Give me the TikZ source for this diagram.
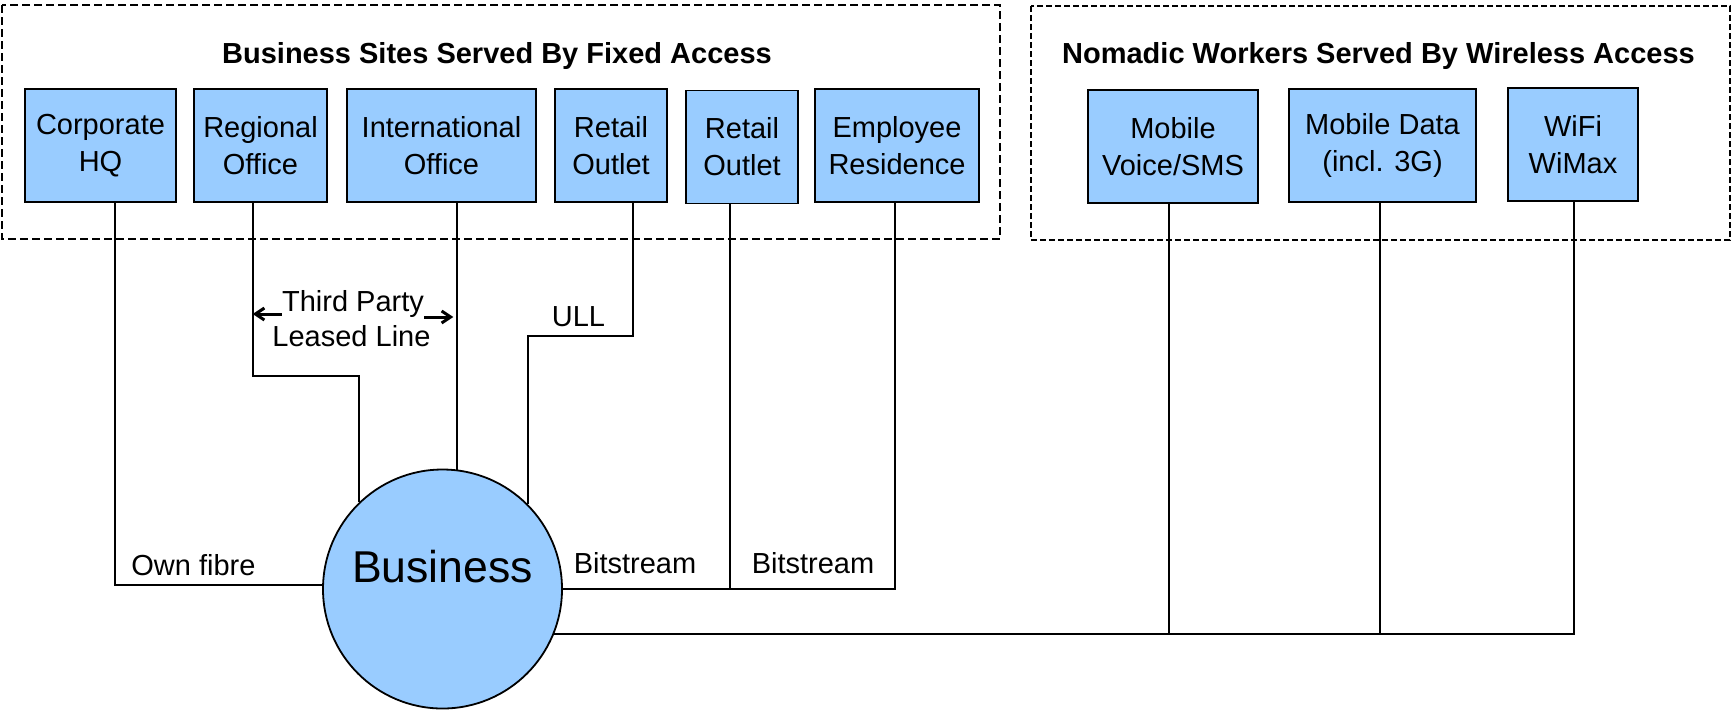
\documentclass[tikz,border=0pt]{standalone}
\usepackage{fontspec}
\setmainfont{Liberation Sans}
\usetikzlibrary{arrows.meta,calc}
\definecolor{siteblue}{RGB}{153,204,255}

\begin{document}
\begin{tikzpicture}[x=0.5pt,y=-0.5pt,
    site/.style={draw,fill=siteblue,line width=0.9pt,inner sep=0pt,align=center,
      minimum height=56.5pt,font=\fontsize{14.5}{18.5}\selectfont},
    group/.style={draw,dash pattern=on 4pt off 2pt,line width=1.3pt},
    link/.style={line width=0.9pt},
    lbl/.style={inner sep=0pt,font=\fontsize{14.5}{17.5}\selectfont},
    head/.style={inner sep=0pt,font=\fontsize{14.5}{17.5}\selectfont\bfseries},
    lease/.style={line width=1.5pt,-{Straight Barb[length=4.5pt,width=6pt]}}]
  \useasboundingbox (0,0) rectangle (1732,709);
  \draw[group] (2,5) rectangle (1000,239);
  \draw[group,dash pattern=on 3pt off 1.5pt,line width=0.9pt] (1031,6) rectangle (1730,240);
  \node[head,anchor=base] (fixedtitle) at (497,63) {Business Sites Served By Fixed Access};
  \node[head,anchor=base] (wirelesstitle) at (1378.5,63) {Nomadic Workers Served By Wireless Access};

  \node[site,minimum width=75.5pt] (corp) at (100.5,145.5) {Corporate\\HQ};
  \node[site,minimum width=66.5pt] (regional) at (260.5,145.5) {Regional\\Office};
  \node[site,minimum width=94.5pt] (intl) at (441.5,145.5) {International\\Office};
  \node[site,minimum width=56pt] (retaila) at (611,145.5) {Retail\\Outlet};
  \node[site,minimum width=56pt] (retailb) at (742,147) {Retail\\Outlet};
  \node[site,minimum width=82pt] (employee) at (897,145.5) {Employee\\Residence};
  \node[site,minimum width=85pt] (voice) at (1173,146.5) {Mobile\\Voice/SMS};
  \node[site,minimum width=93.5pt] (data) at (1382.5,145.5) {Mobile Data\\(incl. 3G)};
  \node[site,minimum width=65pt] (wifi) at (1573,144.5) {WiFi\\WiMax};

  \node[circle,draw,fill=siteblue,line width=0.9pt,inner sep=0pt,minimum size=119.5pt,
    text height=16pt,text depth=23pt,font=\fontsize{22.3}{26}\selectfont] (biz) at (442.5,589) {Business};

  \coordinate (corpdrop) at ($(corp.south)+(14.5,0)$);
  \coordinate (regdrop) at ($(regional.south)+(-7.5,0)$);
  \coordinate (retaildrop) at ($(retaila.south)+(22,0)$);
  \coordinate (outletdrop) at ($(retailb.south)+(-12,0)$);
  \coordinate (empdrop) at ($(employee.south)+(-2,0)$);
  \coordinate (voicedrop) at ($(voice.south)+(-4,0)$);
  \coordinate (datadrop) at ($(data.south)+(-2.5,0)$);
  \coordinate (wifidrop) at ($(wifi.south)+(1,0)$);
  \coordinate (leasebend) at (0,376);
  \coordinate (ullbend) at (0,336);

  \draw[link] (corpdrop) |- (biz.178);
  \draw[link] (regdrop) |- (biz.134 |- leasebend) -- (biz.134);
  \draw[link] (intl.south -| biz.83) -- (biz.83);
  \draw[link] (retaildrop) |- (biz.45 |- ullbend) -- (biz.45);
  \draw[link] (outletdrop) -- (outletdrop |- biz.east);
  \draw[link] (empdrop) |- (biz.east);
  \draw[link] (biz.338) -| (wifidrop);
  \draw[link] (voicedrop) -- (voicedrop |- biz.338);
  \draw[link] (datadrop) -- (datadrop |- biz.338);

  \node[lbl,anchor=base west] (ownfibre) at (131,575) {Own fibre};
  \node[lbl,anchor=base] (third) at (353,311) {Third Party};
  \node[lbl,anchor=base] (leased) at (351.5,346) {Leased Line};
  \draw[lease] ([yshift=-1.5pt]third.base west) -- ++(-29,0);
  \draw[lease] ([yshift=-3pt]third.base east) -- ++(29,0);
  \node[lbl,anchor=base] (ull) at (578.5,326) {ULL};
  \node[lbl,anchor=base] (bitsa) at (635,573) {Bitstream};
  \node[lbl,anchor=base] (bitsb) at (813,573) {Bitstream};
\end{tikzpicture}
\end{document}
